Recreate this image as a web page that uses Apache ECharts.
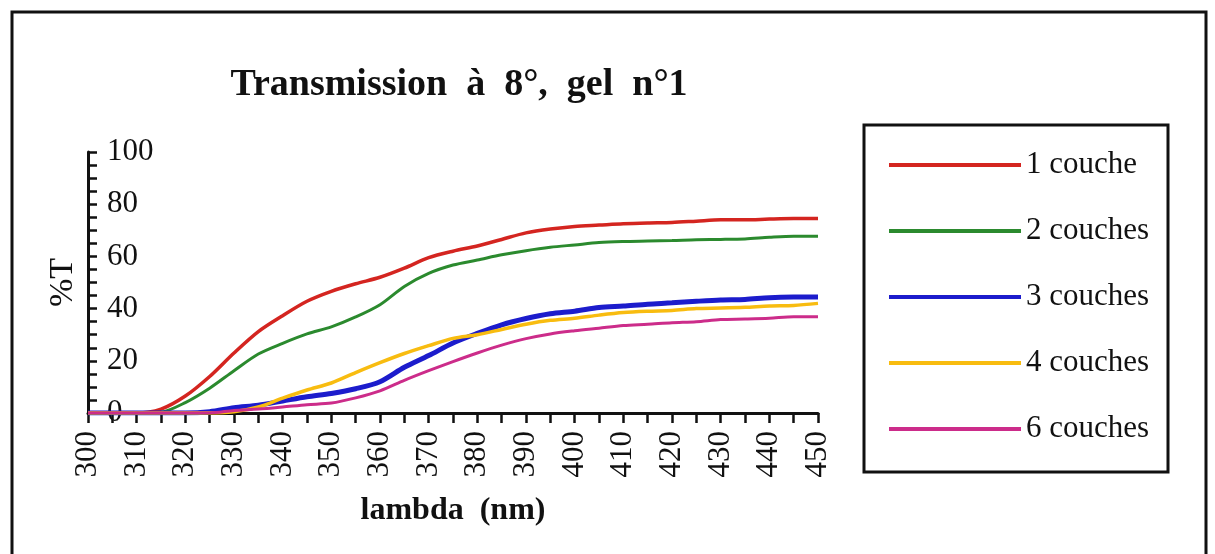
<!DOCTYPE html>
<html>
<head>
<meta charset="utf-8">
<script src="https://cdn.jsdelivr.net/npm/echarts@6/dist/echarts.min.js"></script>
<style>
  html, body { margin: 0; padding: 0; background: #fff; }
  #chart { width: 1215px; height: 554px; }
</style>
</head>
<body>
<div id="chart"></div>
<script>
// longueurs d'onde (nm), pas de 5 nm
const lambda = [300, 305, 310, 315, 320, 325, 330, 335, 340, 345, 350, 355, 360, 365, 370, 375,
  380, 385, 390, 395, 400, 405, 410, 415, 420, 425, 430, 435, 440, 445, 450];

// %T
const couche1 = [0, 0, 0, 1.5, 6.5, 14, 23, 31.2, 37.3, 42.8, 46.6, 49.5, 52, 55.5, 59.5, 62,
  64, 66.5, 69, 70.5, 71.5, 72, 72.5, 72.8, 73, 73.5, 74, 74, 74.3, 74.5, 74.5];
const couche2 = [0, 0, 0, 0.3, 4, 9.5, 16.2, 22.6, 26.7, 30.3, 33, 36.8, 41.5, 48.5, 53.5, 56.7,
  58.6, 60.6, 62.2, 63.5, 64.4, 65.3, 65.7, 65.9, 66.1, 66.4, 66.5, 66.7, 67.3, 67.7, 67.7];
const couche3 = [0, 0, 0, 0, 0, 0.5, 2, 3, 4.6, 6.2, 7.5, 9.3, 12, 17.5, 22, 26.8,
  30.5, 33.8, 36.2, 38, 39, 40.4, 41, 41.7, 42.2, 42.8, 43.3, 43.5, 44.2, 44.4, 44.4];
const couche4 = [0, 0, 0, 0, 0, 0, 0.5, 2.3, 5.7, 8.8, 11.5, 15.5, 19.3, 22.8, 25.8, 28.6,
  30, 32, 34, 35.5, 36.3, 37.5, 38.5, 39, 39.3, 40, 40.2, 40.5, 41, 41.2, 42];
const couche6 = [0, 0, 0, 0, 0, 0, 1, 1.5, 2.3, 3.2, 3.8, 5.8, 8.5, 12.5, 16.2, 19.7,
  23, 26, 28.5, 30.3, 31.5, 32.5, 33.5, 34, 34.6, 35, 35.8, 36, 36.3, 36.9, 36.9];

const noms = ['1 couche', '2 couches', '3 couches', '4 couches', '6 couches'];
const couleurs = ['#d42520', '#2b8a2e', '#1c1ccc', '#f8bc10', '#cc2c8a'];
const epaisseurs = [3.5, 3, 5, 3.5, 3];
const valeurs = [couche1, couche2, couche3, couche4, couche6];

const police = 'Liberation Serif, Times New Roman, serif';
const chart = echarts.init(document.getElementById('chart'));

const series = noms.map(function (nom, i) {
  return {
    name: nom,
    type: 'line',
    showSymbol: false,
    smooth: 0.3,
    data: lambda.map(function (l, k) { return [l, valeurs[i][k]]; }),
    lineStyle: { color: couleurs[i], width: epaisseurs[i] },
    itemStyle: { color: couleurs[i] }
  };
});

chart.setOption({
  backgroundColor: '#fff',
  animation: false,
  title: {
    text: 'Transmission  à  8°,  gel  n°1',
    left: 454,
    textAlign: 'center',
    top: 61,
    textStyle: { fontFamily: police, fontSize: 38, fontWeight: 'bold', color: '#111' }
  },
  legend: {
    orient: 'vertical',
    left: 884,
    top: 144,
    itemWidth: 132,
    itemHeight: 4,
    itemGap: 34,
    icon: 'rect',
    textStyle: { fontFamily: police, fontSize: 31, lineHeight: 32, color: '#111' },
    data: noms
  },
  grid: { left: 88, right: 397, top: 152, bottom: 141, containLabel: false },
  xAxis: {
    type: 'value',
    min: 300,
    max: 450,
    interval: 10,
    name: 'lambda  (nm)',
    nameLocation: 'middle',
    nameGap: 82,
    nameTextStyle: { fontFamily: police, fontSize: 32, fontWeight: 'bold', color: '#111' },
    axisLine: { show: true, onZero: false, lineStyle: { color: '#111', width: 3 } },
    axisTick: { show: true, length: 10, lineStyle: { color: '#111', width: 2.5 } },
    minorTick: { show: true, splitNumber: 2, length: 10, lineStyle: { color: '#111', width: 2.5 } },
    splitLine: { show: false },
    axisLabel: { rotate: 90, margin: 18, fontFamily: police, fontSize: 31, color: '#111' }
  },
  yAxis: {
    type: 'value',
    min: 0,
    max: 100,
    interval: 20,
    name: '%T',
    nameLocation: 'middle',
    nameGap: 5,
    nameRotate: 90,
    nameTextStyle: { fontFamily: police, fontSize: 34, color: '#111' },
    axisLine: { show: true, lineStyle: { color: '#111', width: 3 } },
    axisTick: { show: true, inside: true, length: 9, lineStyle: { color: '#111', width: 2.5 } },
    minorTick: { show: true, splitNumber: 4, length: 9, lineStyle: { color: '#111', width: 2.5 } },
    splitLine: { show: false },
    axisLabel: { inside: true, margin: 19, fontFamily: police, fontSize: 31, color: '#111' }
  },
  graphic: [
    { type: 'rect', shape: { x: 12, y: 12, width: 1194, height: 560 },
      style: { fill: 'none', stroke: '#111', lineWidth: 3 }, silent: true },
    { type: 'rect', shape: { x: 864, y: 125, width: 304, height: 347 },
      style: { fill: 'none', stroke: '#111', lineWidth: 3 }, silent: true }
  ],
  series: series
});
</script>
</body>
</html>
